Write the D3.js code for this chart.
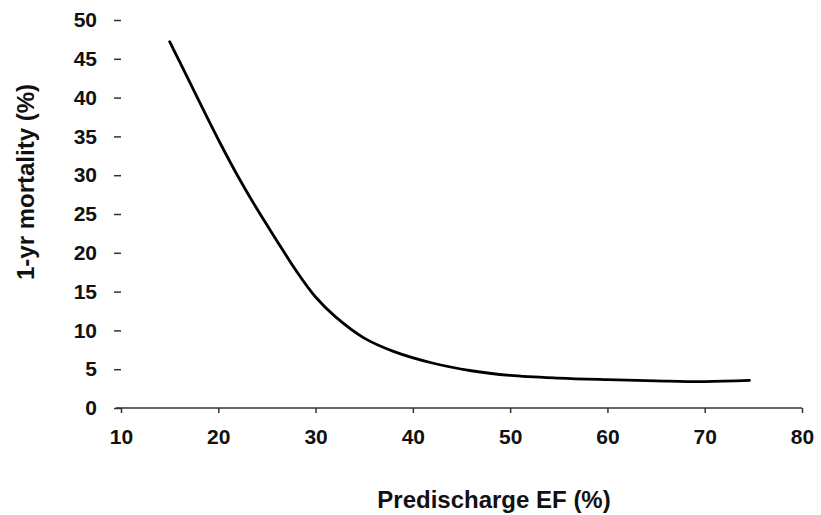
<!DOCTYPE html>
<html>
<head>
<meta charset="utf-8">
<script src="https://cdn.jsdelivr.net/npm/d3@7"></script>
<style>
  body { margin: 0; background: #fff; }
  svg { display: block; font-family: "Liberation Sans", Arial, sans-serif; }
  .axis text { font-size: 21px; font-weight: bold; fill: #111; }
  .axis line { stroke: #333; stroke-width: 1.5; }
  .title { font-size: 24px; font-weight: bold; fill: #111; }
</style>
</head>
<body>
<svg width="821" height="515"></svg>
<script>
// predischarge ejection fraction (%) vs 1-year mortality (%)
var ef = [15, 16, 18, 20, 22, 24, 26, 28, 30, 32, 35, 38, 42, 46, 50, 55, 60, 65, 70, 74.6];
var mortality = [47.2, 44.7, 39.6, 34.6, 29.9, 25.6, 21.6, 17.7, 14.3, 11.8, 9.0, 7.3, 5.8, 4.8, 4.2, 3.85, 3.65, 3.5, 3.4, 3.55];
var xTicks = [10, 20, 30, 40, 50, 60, 70, 80];
var yTicks = [0, 5, 10, 15, 20, 25, 30, 35, 40, 45, 50];

var svg = d3.select("svg");
var margin = { top: 20, right: 19, bottom: 107, left: 121 };
var width = +svg.attr("width"), height = +svg.attr("height");

var x = d3.scaleLinear().domain([10, 80]).range([margin.left, width - margin.right]);
var y = d3.scaleLinear().domain([0, 50]).range([height - margin.bottom, margin.top]);

// x axis
var gx = svg.append("g")
    .attr("class", "axis")
    .attr("transform", "translate(0," + y(0) + ")")
    .call(d3.axisBottom(x).tickValues(xTicks).tickSize(5).tickSizeOuter(0).tickPadding(16));
gx.select(".domain").remove();
gx.append("line")
    .attr("x1", x(10) - 5)
    .attr("x2", x(80))
    .attr("stroke", "#333")
    .attr("stroke-width", 1.5);

// y axis: just dashes and labels, no line
var gy = svg.append("g")
    .attr("class", "axis")
    .attr("transform", "translate(" + margin.left + ",0)")
    .call(d3.axisLeft(y).tickValues(yTicks).tickSize(7).tickPadding(17));
gy.select(".domain").remove();

var pts = ef.map(function (d, i) { return [d, mortality[i]]; });
var line = d3.line()
    .x(function (d) { return x(d[0]); })
    .y(function (d) { return y(d[1]); })
    .curve(d3.curveCatmullRom.alpha(0.5));

svg.append("path")
    .datum(pts)
    .attr("fill", "none")
    .attr("stroke", "#000")
    .attr("stroke-width", 2.8)
    .attr("stroke-linecap", "round")
    .attr("d", line);

svg.append("text")
    .attr("class", "title")
    .attr("x", 494)
    .attr("y", 508)
    .attr("text-anchor", "middle")
    .text("Predischarge EF (%)");

svg.append("text")
    .attr("class", "title")
    .attr("transform", "translate(34,182) rotate(-90)")
    .attr("text-anchor", "middle")
    .text("1-yr mortality (%)");
</script>
</body>
</html>
